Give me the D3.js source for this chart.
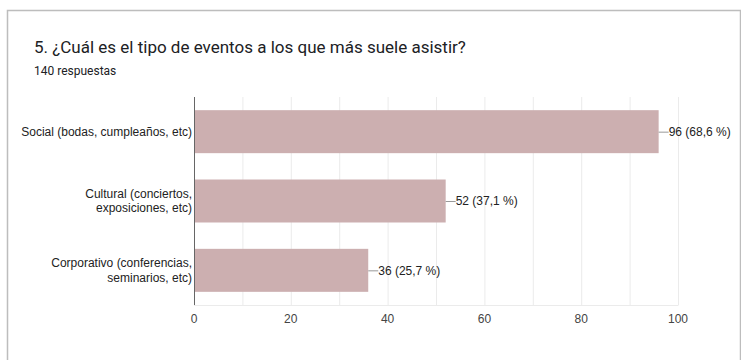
<!DOCTYPE html>
<html>
<head>
<meta charset="utf-8">
<script src="https://cdn.jsdelivr.net/npm/d3@7"></script>
<style>
  body { margin: 0; background: #fff; }
  svg { display: block; font-family: Roboto, Arial, sans-serif; }
  .lbl { font-family: "Liberation Sans", Arial, sans-serif; }
</style>
</head>
<body>
<div id="chart"></div>
<script>
// data
var categories = [
    ["Social (bodas, cumpleaños, etc)"],
    ["Cultural (conciertos,", "exposiciones, etc)"],
    ["Corporativo (conferencias,", "seminarios, etc)"]
];
var counts = [96, 52, 36];
var percents = ["68,6", "37,1", "25,7"];
var xTicks = [0, 20, 40, 60, 80, 100];
var gridTicks = [10, 20, 30, 40, 50, 60, 70, 80, 90, 100];

var W = 741, H = 360;
var margin = { top: 97, left: 194, right: 63, bottom: 55 };

var svg = d3.select("#chart").append("svg")
    .attr("width", W).attr("height", H);

// card border
svg.append("rect")
    .attr("x", 7.5).attr("y", 10.5)
    .attr("width", W - 8).attr("height", H)
    .attr("fill", "none").attr("stroke", "#bdbdbd").attr("stroke-width", 1.5);

svg.append("text")
    .attr("x", 34).attr("y", 53)
    .attr("font-size", 17).attr("fill", "#202124")
    .text("5. ¿Cuál es el tipo de eventos a los que más suele asistir?");
svg.append("text")
    .attr("x", 34).attr("y", 75)
    .attr("font-size", 12).attr("fill", "#202124")
    .text("140 respuestas");

var g = svg.append("g")
    .attr("transform", "translate(" + margin.left + "," + margin.top + ")");

var x = d3.scaleLinear().domain([0, 100]).range([0, 484]);
var y = d3.scaleBand().domain(d3.range(categories.length))
    .range([0, 208]).paddingInner(0.38).paddingOuter(0.19);

// gridlines
g.selectAll(".grid").data(gridTicks).enter().append("line")
    .attr("x1", d => x(d) + 0.5).attr("x2", d => x(d) + 0.5)
    .attr("y1", 0).attr("y2", 208)
    .attr("stroke", "#ebebeb");
g.append("line")
    .attr("x1", 0).attr("x2", x(100) + 0.5)
    .attr("y1", 208.5).attr("y2", 208.5)
    .attr("stroke", "#ebebeb");

// bars
g.selectAll(".bar").data(counts).enter().append("rect")
    .attr("x", x(0) + 1)
    .attr("y", (d, i) => y(i))
    .attr("width", d => x(d) - 1)
    .attr("height", y.bandwidth())
    .attr("fill", "#ccafb0");

// vertical axis line
g.append("line")
    .attr("x1", 0.5).attr("x2", 0.5)
    .attr("y1", 0).attr("y2", 208)
    .attr("stroke", "#666").attr("stroke-width", 1);

// value labels with leader line
var lab = g.selectAll(".val").data(counts).enter().append("g")
    .attr("transform", (d, i) => "translate(" + x(d) + "," + (y(i) + y.bandwidth() / 2) + ")");
lab.append("line")
    .attr("x1", 0).attr("x2", 10).attr("y1", 0.5).attr("y2", 0.5)
    .attr("stroke", "#999");
lab.append("text")
    .attr("class", "lbl")
    .attr("x", 10).attr("dy", "0.35em")
    .attr("font-size", 12).attr("fill", "#222")
    .text((d, i) => d + " (" + percents[i] + " %)");

// category labels
var cat = g.selectAll(".cat").data(categories).enter().append("text")
    .attr("class", "lbl")
    .attr("text-anchor", "end")
    .attr("font-size", 12).attr("fill", "#222")
    .attr("transform", (d, i) => "translate(-2," + (y(i) + y.bandwidth() / 2) + ")");
cat.selectAll("tspan").data(d => d).enter().append("tspan")
    .attr("x", 0)
    .attr("y", (t, j, nodes) => (j - (nodes.length - 1) / 2) * 14.5)
    .attr("dy", "0.35em")
    .text(t => t);

// x tick labels
g.selectAll(".tick").data(xTicks).enter().append("text")
    .attr("class", "lbl")
    .attr("x", d => x(d))
    .attr("y", 222)
    .attr("dy", "0.35em")
    .attr("text-anchor", "middle")
    .attr("font-size", 12).attr("fill", "#444")
    .text(d => d);
</script>
</body>
</html>
